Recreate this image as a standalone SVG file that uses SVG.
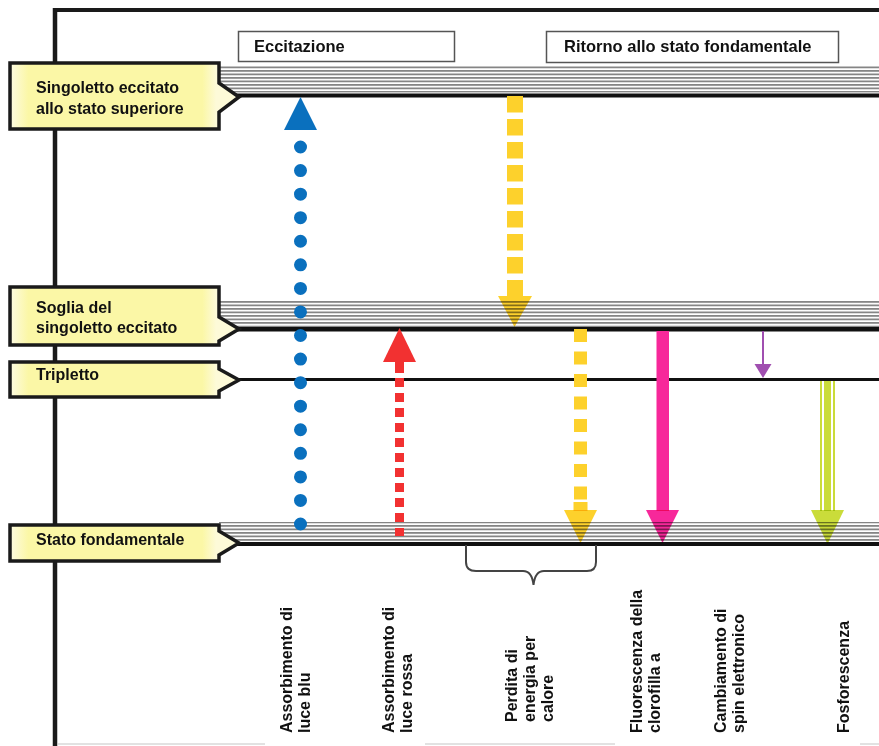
<svg xmlns="http://www.w3.org/2000/svg" width="879" height="746" viewBox="0 0 879 746">
  <style>
    .lbl { font-family: "Liberation Sans", Arial, sans-serif; font-weight: bold; font-size: 16px; fill: #111; }
    .hdr { font-family: "Liberation Sans", Arial, sans-serif; font-weight: bold; font-size: 16.5px; fill: #111; }
    .box { stroke: #1a1a1a; stroke-width: 3.5; fill: url(#yel); stroke-linejoin: miter; }
    .hbox { fill: #fff; stroke: #555; stroke-width: 1.5; }
    .blk { stroke: #111; fill: none; }
    .mul { mix-blend-mode: multiply; }
  </style>
  <defs>
    <pattern id="st" patternUnits="userSpaceOnUse" width="8" height="3.5">
      <rect width="8" height="1.8" fill="#858585"/>
    </pattern>
    <linearGradient id="yel" x1="0" y1="0" x2="1" y2="0">
      <stop offset="0" stop-color="#fdfbe2"/>
      <stop offset="0.08" stop-color="#fbf7a6"/>
      <stop offset="0.84" stop-color="#fbf7a6"/>
      <stop offset="0.9" stop-color="#fdfad8"/>
      <stop offset="1" stop-color="#fdfad8"/>
    </linearGradient>
  </defs>

  <rect width="879" height="746" fill="#fff"/>

  <!-- frame -->
  <g id="frame">
    <line x1="55" y1="8" x2="55" y2="746" stroke="#1a1a1a" stroke-width="4.5"/>
    <line x1="53" y1="10" x2="879" y2="10" stroke="#1a1a1a" stroke-width="4"/>
    <g stroke="#e2e2e2" stroke-width="2">
      <line x1="58" y1="744" x2="265" y2="744"/>
      <line x1="425" y1="744" x2="615" y2="744"/>
      <line x1="860" y1="744" x2="879" y2="744"/>
    </g>
  </g>

  <!-- energy levels -->
  <g id="levels">
    <rect x="219" y="66" width="660" height="26.5" fill="url(#st)"/>
    <line class="blk" x1="219" y1="95.5" x2="879" y2="95.5" stroke-width="4"/>
    <rect x="219" y="300" width="660" height="25.5" fill="url(#st)"/>
    <line class="blk" x1="219" y1="329" x2="879" y2="329" stroke-width="5"/>
    <line class="blk" x1="219" y1="379.5" x2="879" y2="379.5" stroke-width="3"/>
    <rect x="219" y="522" width="660" height="19" fill="url(#st)"/>
    <line class="blk" x1="219" y1="544" x2="879" y2="544" stroke-width="4"/>
  </g>

  <!-- connectors / transitions -->
  <g id="connectors">
    <!-- blue absorption -->
    <g id="blue">
      <line x1="300.5" y1="147" x2="300.5" y2="526" stroke="#0a70be" stroke-width="13" stroke-linecap="round" stroke-dasharray="0 23.5625"/>
      <polygon points="300.5,97 284,130 317,130" fill="#0a70be"/>
    </g>
    <!-- red absorption -->
    <g id="red">
      <line x1="399.5" y1="360" x2="399.5" y2="373" stroke="#f23131" stroke-width="9"/>
      <line x1="399.5" y1="378" x2="399.5" y2="536" stroke="#f23131" stroke-width="9" stroke-dasharray="9 6"/>
      <polygon points="399.5,328 383,362 416,362" fill="#f23131"/>
    </g>
    <!-- heat loss 1 -->
    <g id="heat1">
      <line x1="515" y1="96" x2="515" y2="296" stroke="#fdd12c" stroke-width="16" stroke-dasharray="16.5 6.5"/>
      <polygon class="mul" points="498,296 532,296 514.5,327" fill="#fdd12c"/>
    </g>
    <!-- heat loss 2 -->
    <g id="heat2">
      <line x1="580.5" y1="329" x2="580.5" y2="502" stroke="#fdd12c" stroke-width="13" stroke-dasharray="13 9.5"/>
      <rect x="573.5" y="502" width="14" height="9" fill="#fdd12c"/>
      <polygon class="mul" points="564,510 597,510 580.5,543" fill="#fdd12c"/>
    </g>
    <!-- fluorescence -->
    <g id="fluor">
      <rect x="656.5" y="331" width="12.5" height="180" fill="#f7289a"/>
      <polygon class="mul" points="646,510 679,510 662.5,543" fill="#f7289a"/>
    </g>
    <!-- spin change -->
    <g id="spin">
      <line x1="763" y1="331" x2="763" y2="366" stroke="#a04fb0" stroke-width="2"/>
      <polygon points="754.5,364 771.5,364 763,378" fill="#a04fb0"/>
    </g>
    <!-- phosphorescence -->
    <g id="phos">
      <line x1="821" y1="381" x2="821" y2="511" stroke="#cadc3a" stroke-width="2"/>
      <rect x="824" y="381" width="7" height="130" fill="#cadc3a"/>
      <line x1="834" y1="381" x2="834" y2="511" stroke="#cadc3a" stroke-width="2"/>
      <polygon class="mul" points="811,510 844,510 827.5,544" fill="#cadc3a"/>
    </g>
    <!-- brace -->
    <path id="brace" d="M466,545 L466,562 Q466,571 476,571 L523,571 Q532,571 533.5,585 Q535,571 544,571 L587,571 Q596,571 596,562 L596,545" fill="none" stroke="#444" stroke-width="2"/>
  </g>

  <!-- header boxes -->
  <g id="hdr-eccitazione">
    <rect class="hbox" x="238.5" y="31.5" width="216" height="30"/>
    <text class="hdr" x="254" y="52">Eccitazione</text>
  </g>
  <g id="hdr-ritorno">
    <rect class="hbox" x="546.5" y="31.5" width="292" height="31"/>
    <text class="hdr" x="564" y="52">Ritorno allo stato fondamentale</text>
  </g>

  <!-- level labels -->
  <g id="lbl-singoletto">
    <path class="box" d="M10,63 H219 V83 L239,97 L219,112 V129 H10 Z"/>
    <text class="lbl" x="36" y="93">Singoletto eccitato</text>
    <text class="lbl" x="36" y="114">allo stato superiore</text>
  </g>
  <g id="lbl-soglia">
    <path class="box" d="M10,287 H219 V317 L239,329 L219,341 V345 H10 Z"/>
    <text class="lbl" x="36" y="313">Soglia del</text>
    <text class="lbl" x="36" y="333">singoletto eccitato</text>
  </g>
  <g id="lbl-tripletto">
    <path class="box" d="M10,362 H219 V369 L239,380 L219,391 V397 H10 Z"/>
    <text class="lbl" x="36" y="380">Tripletto</text>
  </g>
  <g id="lbl-fondamentale">
    <path class="box" d="M10,525 H219 V531 L239,543 L219,555 V561 H10 Z"/>
    <text class="lbl" x="36" y="545">Stato fondamentale</text>
  </g>

  <!-- process labels -->
  <g id="proc-blu">
    <text class="lbl" transform="translate(292,733) rotate(-90)">Assorbimento di<tspan x="0" dy="18">luce blu</tspan></text>
  </g>
  <g id="proc-rossa">
    <text class="lbl" transform="translate(394,733) rotate(-90)">Assorbimento di<tspan x="0" dy="18">luce rossa</tspan></text>
  </g>
  <g id="proc-calore">
    <text class="lbl" transform="translate(517,722) rotate(-90)">Perdita di<tspan x="0" dy="18">energia per</tspan><tspan x="0" dy="18">calore</tspan></text>
  </g>
  <g id="proc-fluor">
    <text class="lbl" transform="translate(642,733) rotate(-90)">Fluorescenza della<tspan x="0" dy="18">clorofilla a</tspan></text>
  </g>
  <g id="proc-spin">
    <text class="lbl" transform="translate(726,733) rotate(-90)">Cambiamento di<tspan x="0" dy="18">spin elettronico</tspan></text>
  </g>
  <g id="proc-fosfo">
    <text class="lbl" transform="translate(849,733) rotate(-90)">Fosforescenza</text>
  </g>
</svg>
